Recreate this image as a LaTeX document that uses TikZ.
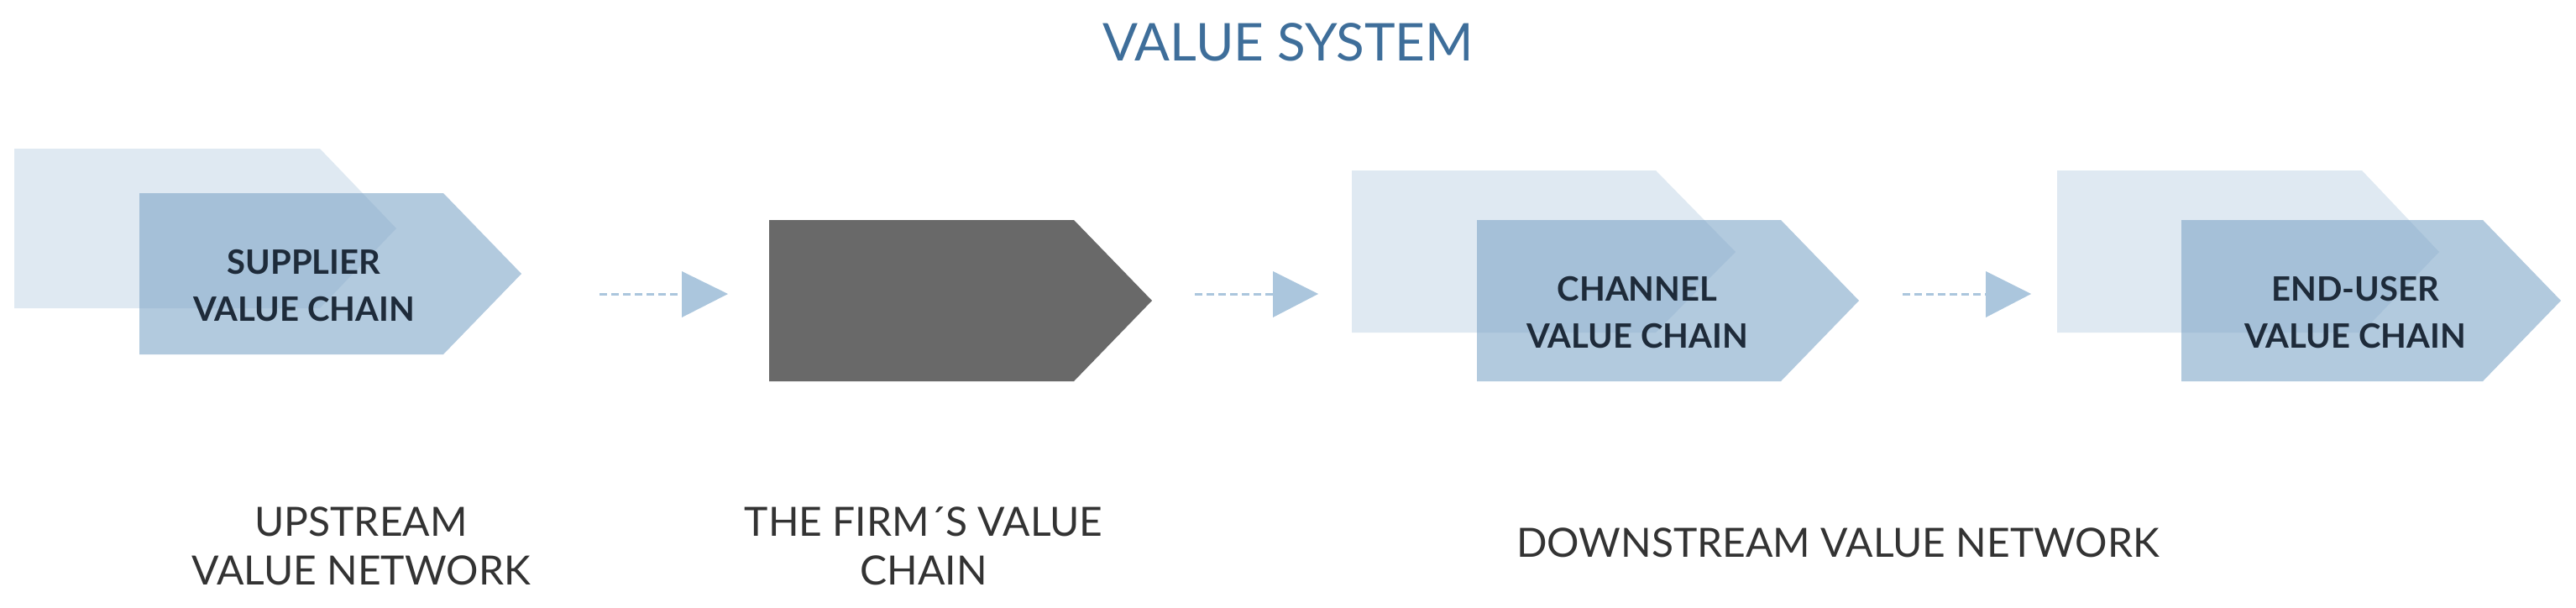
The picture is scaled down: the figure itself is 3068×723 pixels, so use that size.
\documentclass[tikz,border=0pt]{standalone}
\usepackage{fontspec}
\setmainfont{Lato}
\definecolor{backc}{HTML}{DFE9F2}
\definecolor{frontc}{HTML}{7FA6C8}
\definecolor{firmc}{HTML}{696969}
\definecolor{arrc}{HTML}{ABC6DD}
\definecolor{titlec}{HTML}{3E6E9A}
\definecolor{txtc}{HTML}{1E2B3A}
\begin{document}
\begin{tikzpicture}[x=1pt,y=-1pt,
  back/.style={fill=backc},
  front/.style={fill=frontc,fill opacity=0.6},
  chain/.style={font=\fontsize{40}{56}\selectfont\bfseries,text=txtc,align=center},
  lab/.style={font=\fontsize{48}{58}\selectfont,text=black!80,align=center},
  dashline/.style={draw=arrc,line width=3pt,dash pattern=on 9pt off 5pt},
  tri/.style={fill=arrc}]
\useasboundingbox (0,0) rectangle (3068,723);
\node[font=\fontsize{62}{70}\selectfont,text=titlec] (title) at (1534,50) {VALUE SYSTEM};
% supplier
\fill[back] (17,177) -- (381,177) -- (472,272) -- (381,367) -- (17,367) -- cycle;
\fill[front] (166,230) -- (528,230) -- (621,326) -- (528,422) -- (166,422) -- cycle;
\node[chain] (sup) at (362,340) {SUPPLIER\\VALUE CHAIN};
% firm
\fill[firmc] (916,262) -- (1279,262) -- (1372,358) -- (1279,454) -- (916,454) -- cycle;
\node (firm) at (1100,358) {};
% channel
\fill[back] (1610,203) -- (1972,203) -- (2067,300) -- (1972,396) -- (1610,396) -- cycle;
\fill[front] (1759,262) -- (2121,262) -- (2214,358) -- (2121,454) -- (1759,454) -- cycle;
\node[chain] (chan) at (1950,372) {CHANNEL\\VALUE CHAIN};
% end-user
\fill[back] (2450,203) -- (2813,203) -- (2905,300) -- (2813,396) -- (2450,396) -- cycle;
\fill[front] (2598,262) -- (2957,262) -- (3050,358) -- (2957,454) -- (2598,454) -- cycle;
\node[chain] (end) at (2805,372) {END-USER\\VALUE CHAIN};
% arrows
\coordinate (a1s) at (714,350); \coordinate (a1e) at (812,350);
\draw[dashline] (a1s) -- (a1e);
\fill[tri] (812,323) -- (867,350) -- (812,378) -- cycle;
\coordinate (a2s) at (1423,350); \coordinate (a2e) at (1516,350);
\draw[dashline] (a2s) -- (a2e);
\fill[tri] (1516,323) -- (1570,350) -- (1516,378) -- cycle;
\coordinate (a3s) at (2266,350); \coordinate (a3e) at (2365,350);
\draw[dashline] (a3s) -- (a3e);
\fill[tri] (2365,323) -- (2419,350) -- (2365,378) -- cycle;
% labels
\node[lab] (up) at (430,650) {UPSTREAM\\VALUE NETWORK};
\node[lab] (fl) at (1100,650) {THE FIRM´S VALUE\\CHAIN};
\node[lab] (down) at (2189,646) {DOWNSTREAM VALUE NETWORK};
\end{tikzpicture}
\end{document}
